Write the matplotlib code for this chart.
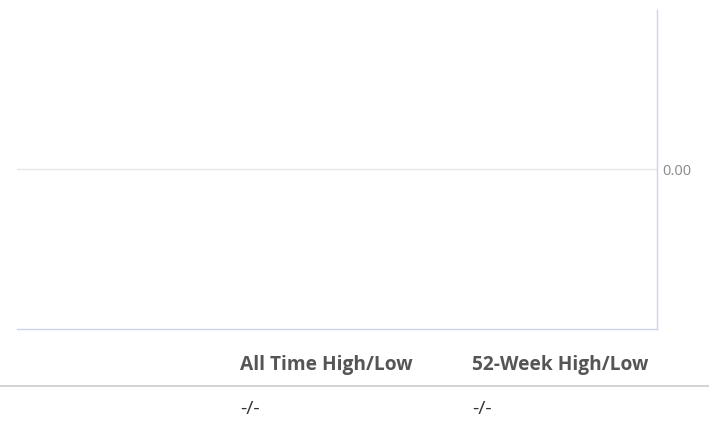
import matplotlib
matplotlib.use("Agg")
import matplotlib.pyplot as plt

# Data
y_ticks = [0.0]
y_tick_labels = ["0.00"]
dates = []
prices = []
table_headers = ["All Time High/Low", "52-Week High/Low"]
table_values = ["-/-", "-/-"]

W, H = 709, 428
fig = plt.figure(figsize=(W / 100, H / 100), dpi=100)
fig.patch.set_facecolor("white")

ax = fig.add_axes([17 / W, 1 - 328.5 / H, (657 - 17) / W, (328.5 - 10) / H])
ax.plot(dates, prices, color="#2f7ed8")
ax.set_xlim(0, 1)
ax.set_ylim(-1, 1)
ax.set_yticks(y_ticks)
ax.set_yticklabels(y_tick_labels)
ax.yaxis.tick_right()
ax.tick_params(axis="y", length=0, pad=4, labelsize=10.5, labelcolor="#888888")
ax.set_xticks([])
ax.grid(axis="y", color="#e6e6e6", linewidth=1)
for s in ["top", "left"]:
    ax.spines[s].set_visible(False)
for s in ["right", "bottom"]:
    ax.spines[s].set_color("#ccd6eb")
    ax.spines[s].set_linewidth(1)
for lbl in ax.get_yticklabels():
    lbl.set_family("Open Sans")

# Table below
col_x = [240, 472]
for x, h, v in zip(col_x, table_headers, table_values):
    fig.text(x / W, 1 - 365 / H, h, ha="left", va="center", fontsize=13.8,
             fontweight="bold", color="#555555", family="Open Sans")
    fig.text(x / W, 1 - 409 / H, v, ha="left", va="center", fontsize=14,
             color="#333333", family="Open Sans")
fig.add_artist(plt.Line2D([0, 1], [1 - 386 / H, 1 - 386 / H], color="#cccccc",
                          linewidth=1.2, transform=fig.transFigure))

fig.savefig("out.png", dpi=100, facecolor="white")
